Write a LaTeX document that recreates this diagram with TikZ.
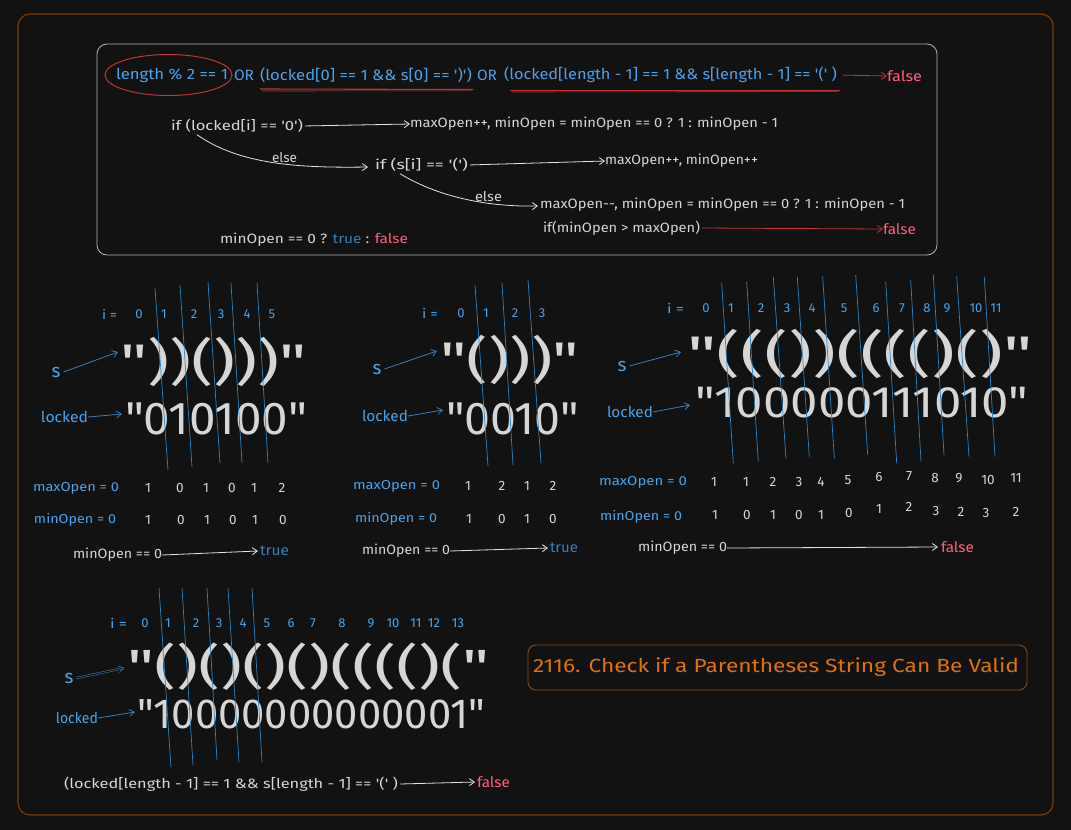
\documentclass[tikz,border=0pt]{standalone}
\usepackage{fontspec}
\setmainfont{Fira Sans}[Ligatures=TeXOff]
\usepackage{graphicx}
\usetikzlibrary{arrows.meta}
\definecolor{bg}{HTML}{121212}
\definecolor{fg}{HTML}{D6D6D6}
\definecolor{cblue}{HTML}{4AA2E8}
\definecolor{dblue}{HTML}{3A7DB8}
\definecolor{cred}{HTML}{FF5E7E}
\definecolor{ured}{HTML}{B83838}
\definecolor{framec}{HTML}{7A3F08}
\definecolor{orng}{HTML}{DB720E}
\definecolor{tboxc}{HTML}{8A4A12}
\definecolor{cutc}{HTML}{2F84C4}
\definecolor{boxgray}{HTML}{B4B4B4}
\newcommand{\fitw}[2]{\resizebox{#1pt}{\height}{#2}}
\begin{document}
\begin{tikzpicture}[x=1pt,y=-1pt,
  every node/.style={inner sep=0pt,outer sep=0pt},
  wt/.style={text=fg,font=\fontsize{13.5}{16}\selectfont,anchor=west},
  bt/.style={text=cblue,font=\fontsize{15}{18}\selectfont,anchor=west},
  rt/.style={text=cred,font=\fontsize{14.5}{17}\selectfont,anchor=west},
  tt/.style={text=dblue,font=\fontsize{14.5}{17}\selectfont,anchor=west},
  lbl/.style={text=cblue,font=\fontsize{13}{15}\selectfont,anchor=west},
  idx/.style={text=cblue,font=\fontsize{13}{15}\selectfont},
  val/.style={text=fg,font=\fontsize{13.5}{15}\selectfont},
  big/.style={text=fg,font=\fontsize{50}{56}\selectfont,anchor=west},
  bigd/.style={text=fg,font=\fontsize{46}{50}\selectfont,anchor=west},
  slab/.style={text=cblue,font=\fontsize{19}{22}\selectfont},
  llab/.style={text=cblue,font=\fontsize{15}{18}\selectfont,anchor=west},
  garr/.style={draw=fg!70,line width=0.8pt,-{Straight Barb[length=5pt,width=7pt]}},
  rarr/.style={draw=ured,line width=0.8pt,-{Straight Barb[length=5pt,width=7pt]}},
  barr/.style={draw=dblue,line width=0.8pt,-{Straight Barb[length=5pt,width=7pt]}},
  cut/.style={draw=cutc,line width=0.7pt},
]
\fill[bg] (0,0) rectangle (1071,830);
\useasboundingbox (0,0) rectangle (1071,830);
% outer frame
\draw[framec,line width=1.1pt,rounded corners=12pt] (18,14) rectangle (1053,815);
% top box
\draw[boxgray,line width=0.8pt,rounded corners=10pt] (97,44) rectangle (937,255);
\node[bt] (c1) at (116,75) {\fitw{112}{length \% 2 == 1}};
\draw[ured,line width=1pt] (168.5,75) ellipse [x radius=63.5,y radius=20.5];
\node[bt] (or1) at (234,75) {\fitw{20}{OR}};
\node[bt] (c2) at (260,75) {\fitw{212}{(locked[0] == 1 \&\& s[0] == ')')}};
\node[bt] (or2) at (477,75) {\fitw{20}{OR}};
\node[bt] (c3) at (504,75) {\fitw{333}{(locked[length - 1] == 1 \&\& s[length - 1] == '(' )}};
\draw[ured,line width=1.1pt] (260,89) -- (473,89.5);
\draw[ured,line width=0.6pt] (262,91) -- (471,90.8);
\draw[ured,line width=1.1pt] (510,90.5) -- (840,90.5);
\draw[ured,line width=0.6pt] (512,92) -- (838,91.6);
\node[rt] (f1) at (887,76) {\fitw{35}{false}};
\draw[rarr,shorten <=6pt] (c3.east) -- (f1.west);

\node[wt] (l0) at (171,126) {\fitw{132}{if (locked[i] == '0')}};
\node[wt] (a0) at (410,124) {\fitw{368}{maxOpen++, minOpen = minOpen == 0 ? 1 : minOpen - 1}};
\draw[garr,shorten <=2pt] (l0.east) -- (a0.west);
\node[wt] (s0) at (375,165) {\fitw{93}{if (s[i] == '(')}};
\node[wt] (e0) at (272,158) {\fitw{25}{else}};
\draw[garr] ([xshift=26pt,yshift=-2pt]l0.south west) .. controls (240,165) and (300,168) .. ([xshift=-7pt,yshift=-2pt]s0.west);
\node[wt] (a1) at (605,161) {\fitw{153}{maxOpen++, minOpen++}};
\draw[garr,shorten <=2pt] (s0.east) -- (a1.west);
\node[wt] (e1) at (475,197) {\fitw{27}{else}};
\node[wt] (a2) at (540,205) {\fitw{365}{maxOpen--, minOpen = minOpen == 0 ? 1 : minOpen - 1}};
\draw[garr] ([xshift=25pt,yshift=-2pt]s0.south west) .. controls (440,198) and (490,207) .. ([xshift=-2pt,yshift=-1pt]a2.west);
\node[wt] (a3) at (543,228) {\fitw{157}{if(minOpen > maxOpen)}};
\node[rt] (f2) at (883,229) {\fitw{33}{false}};
\draw[rarr,shorten <=2pt] (a3.east) -- (f2.west);
\node[wt] (res) at (220,240) {\fitw{188}{minOpen == 0 ? \textcolor{dblue}{true} : \textcolor{cred}{false}}};

% ===== Example 1 =====
\node[idx,anchor=west] (e1i) at (102,314) {\fitw{15}{i =}};
\foreach \x/\l [count=\k] in {139/0,164/1,194/2,221/3,247/4,272/5}
  \node[idx] (e1i\k) at (\x,314) {\l};
\node[big] (e1s) at (120,362) {\fitw{187}{"))()))"}};
\node[bigd] (e1l) at (125,419) {\fitw{182}{"010100"}};
\node[slab] (e1sl) at (56,372) {s};
\draw[barr] ([xshift=3pt]e1sl.east) -- ([xshift=-2pt,yshift=10pt]e1s.west);
\node[llab] (e1ll) at (41,417) {\fitw{47}{locked}};
\draw[barr] (e1ll.east) -- ([xshift=-3pt,yshift=5pt]e1l.west);
\foreach \a/\b/\c/\d in {155/288/168/470,180/285/192/467,208/282/220/463,231/283/242/463,257/283/268/463}
  \draw[cut] (\a,\b) -- (\c,\d);
\node[lbl] (e1mx) at (33,488) {\fitw{86}{maxOpen = 0}};
\foreach \x/\l [count=\k] in {148/1,180/0,206/1,232/0,254/1,282/2}
  \node[val] (e1mx\k) at (\x,488) {\l};
\node[lbl] (e1mn) at (34,520) {\fitw{82}{minOpen = 0}};
\foreach \x/\l [count=\k] in {148/1,181/0,207/1,233/0,255/1,283/0}
  \node[val] (e1mn\k) at (\x,520) {\l};
\node[wt] (e1q) at (73,555) {\fitw{89}{minOpen == 0}};
\node[tt] (e1t) at (260,551) {\fitw{29}{true}};
\draw[garr] (e1q.east) -- ([xshift=-2pt]e1t.west);

% ===== Example 2 =====
\node[idx,anchor=west] (e2i) at (422,313) {\fitw{16}{i =}};
\foreach \x/\l [count=\k] in {461/0,486/1,515/2,542/3}
  \node[idx] (e2i\k) at (\x,313) {\l};
\node[big] (e2s) at (440,360) {\fitw{139}{"()))"}};
\node[bigd] (e2l) at (446,419) {\fitw{133}{"0010"}};
\node[slab] (e2sl) at (377,369) {s};
\draw[barr] ([xshift=3pt]e2sl.east) -- ([xshift=-3pt,yshift=9pt]e2s.west);
\node[llab] (e2ll) at (362,416) {\fitw{46}{locked}};
\draw[barr] (e2ll.east) -- ([xshift=-3pt,yshift=9pt]e2l.west);
\foreach \a/\b/\c/\d in {475/285/488/466,502/283/513/465,528/280/541/463}
  \draw[cut] (\a,\b) -- (\c,\d);
\node[lbl] (e2mx) at (353,486) {\fitw{87}{maxOpen = 0}};
\foreach \x/\l [count=\k] in {468/1,502/2,527/1,553/2}
  \node[val] (e2mx\k) at (\x,486) {\l};
\node[lbl] (e2mn) at (355,519) {\fitw{82}{minOpen = 0}};
\foreach \x/\l [count=\k] in {469/1,502/0,527/1,553/0}
  \node[val] (e2mn\k) at (\x,519) {\l};
\node[wt] (e2q) at (362,551) {\fitw{88}{minOpen == 0}};
\node[tt] (e2t) at (550,548) {\fitw{28}{true}};
\draw[garr] (e2q.east) -- ([xshift=-2pt]e2t.west);

% ===== Example 3 =====
\node[idx,anchor=west] (e3i) at (667,308) {\fitw{17}{i =}};
\foreach \x/\l [count=\k] in {706/0,731/1,761/2,787/3,812/4,844/5,876/6,902/7,927/8,947/9,976/10,996/11}
  \node[idx] (e3i\k) at (\x,308) {\l};
\node[big] (e3s) at (687,354) {\fitw{346}{"((())(((()()"}};
\node[bigd,font=\fontsize{44}{48}\selectfont] (e3l) at (695,403) {\fitw{333}{"100000111010"}};
\node[slab] (e3sl) at (622,366) {s};
\draw[barr] ([xshift=3pt]e3sl.east) -- ([xshift=-6pt,yshift=2pt]e3s.west);
\node[llab] (e3ll) at (607,412) {\fitw{46}{locked}};
\draw[barr] (e3ll.east) -- ([xshift=-5pt,yshift=-2pt]e3l.west);
\foreach \a/\b/\c/\d in {721.7/283.3/733.3/463.3,746.7/281.7/758.3/461.7,773.3/276.7/786/458.3,797.3/276.7/809.3/456.7,822.7/276.7/834.3/458.3,855.7/275/867.7/455,885.7/281.7/896.7/463.3,910.7/280/921/461.7,933.3/275/944/455,956.7/276.7/969/456.7,984.3/276.7/995/456.7}
  \draw[cut] (\a,\b) -- (\c,\d);
\node[lbl] (e3mx) at (599,482) {\fitw{88}{maxOpen = 0}};
\foreach \x/\y/\l [count=\k] in {714/482/1,746/482/1,773/482/2,799/482/3,821/482/4,848/480/5,879/477/6,909/476/7,935/478/8,959/478/9,988/480/10,1016/478/11}
  \node[val] (e3mx\k) at (\x,\y) {\l};
\node[lbl] (e3mn) at (600,517) {\fitw{82}{minOpen = 0}};
\foreach \x/\y/\l [count=\k] in {715/515/1,747/515/0,773/515/1,799/515/0,821/515/1,849/513/0,879/509/1,909/507/2,936/511/3,961/512/2,986/513/3,1016/512/2}
  \node[val] (e3mn\k) at (\x,\y) {\l};
\node[wt] (e3q) at (638,548) {\fitw{89}{minOpen == 0}};
\node[rt] (e3f) at (941,547) {\fitw{33}{false}};
\draw[garr] (e3q.east) -- ([xshift=-3pt]e3f.west);

% ===== Example 4 =====
\node[idx,anchor=west] (e4i) at (110,623) {\fitw{17}{i =}};
\foreach \x/\l [count=\k] in {145/0,168/1,196/2,219/3,243/4,267/5,291/6,313/7,342/8,371/9,393/10,416/11,434/12,458/13}
  \node[idx] (e4i\k) at (\x,623) {\l};
\node[big,font=\fontsize{48}{54}\selectfont] (e4s) at (127,667) {\fitw{363}{"()()()()(((()("}};
\node[bigd,font=\fontsize{42}{48}\selectfont] (e4l) at (137,714) {\fitw{348}{"10000000000001"}};
\node[slab] (e4sl) at (69,678) {s};
\draw[barr,double=bg,double distance=1.2pt,line width=0.5pt] ([xshift=3pt]e4sl.east) -- ([xshift=-3pt,yshift=-1pt]e4s.west);
\node[llab] (e4ll) at (56,718) {\fitw{42}{locked}};
\draw[barr] (e4ll.east) -- ([xshift=-2pt,yshift=2pt]e4l.west);
\foreach \a/\b/\c/\d in {159/588/171/767,182/588/193/765,207/588/217/760,228/588/239/762,252/588/262/762}
  \draw[cut] (\a,\b) -- (\c,\d);
\node[wt] (e4q) at (64,784) {\fitw{334}{(locked[length - 1] == 1 \&\& s[length - 1] == '(' )}};
\node[rt] (e4f) at (477,782) {\fitw{33}{false}};
\draw[garr] ([xshift=2pt]e4q.east) -- ([xshift=-2pt]e4f.west);

% ===== Title =====
\draw[tboxc,line width=0.9pt,rounded corners=8pt] (528,645) rectangle (1027,690);
\node[text=orng,font=\fontsize{19}{22}\selectfont,anchor=west] (title) at (533,667) {\fitw{486}{2116. Check if a Parentheses String Can Be Valid}};
\end{tikzpicture}
\end{document}
